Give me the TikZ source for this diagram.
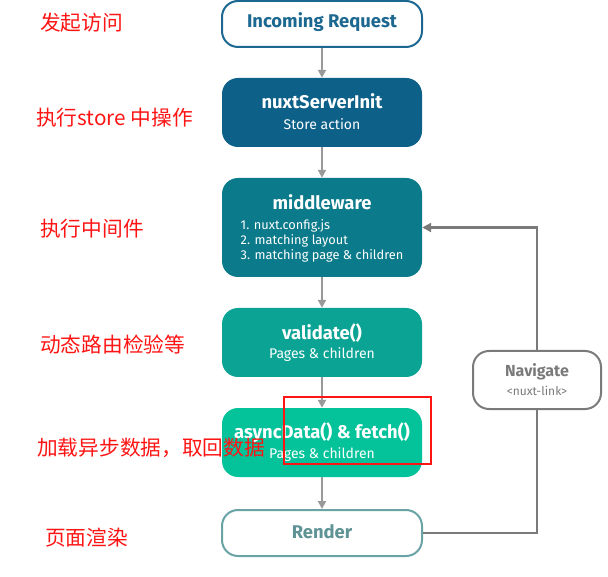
\documentclass[tikz,border=0pt]{standalone}
\usepackage{fontspec}
\setmainfont{Fira Sans}
\newfontfamily\cjk{Noto Sans CJK SC}
\usetikzlibrary{arrows.meta}
\definecolor{reqblue}{HTML}{1D6890}
\definecolor{initblue}{HTML}{0D6088}
\definecolor{midteal}{HTML}{0B7A8A}
\definecolor{valgreen}{HTML}{0AA394}
\definecolor{asyncgreen}{HTML}{04C39A}
\definecolor{renderteal}{HTML}{6AA3A6}
\definecolor{navgray}{HTML}{7A7A7A}
\definecolor{flowgray}{HTML}{999999}
\definecolor{notered}{HTML}{FF1414}
\begin{document}
\begin{tikzpicture}[x=1pt, y=-1pt,
    box/.style={rectangle, rounded corners=16pt, minimum width=200pt, minimum height=69pt, inner sep=0pt},
    ttl/.style={font=\fontsize{18.4}{21}\selectfont\bfseries, text=white, inner sep=0pt},
    sub/.style={font=\fontsize{14}{16}\selectfont, text=white, inner sep=0pt},
    flow/.style={draw=flowgray, line width=2pt, -{Triangle[length=8pt,width=8pt]}},
    back/.style={draw=navgray, line width=2.5pt},
    note/.style={font=\cjk\fontsize{20.7}{24}\selectfont, text=notered, anchor=west, inner sep=0pt}]
    \useasboundingbox (0,0) rectangle (608,577);
    % flow boxes
    \node[box, minimum height=46pt, draw=reqblue, line width=2pt, fill=white] (req) at (322,24) {};
    \node[box, fill=initblue] (init) at (322,112.5) {};
    \node[box, fill=midteal, minimum height=99pt] (mid) at (322,227.5) {};
    \node[box, fill=valgreen] (val) at (322,342.5) {};
    \node[box, fill=asyncgreen] (async) at (322,442.5) {};
    \node[box, minimum height=46pt, draw=renderteal, line width=2pt, fill=white] (render) at (322,533) {};
    \node[box, minimum width=128pt, minimum height=58pt, draw=navgray, line width=2pt, fill=white] (nav) at (537,380) {};
    % texts in the boxes
    \node[ttl, text=reqblue] (req-t) at (322,22) {Incoming Request};
    \node[ttl] (init-t) at (322,101) {nuxtServerInit};
    \node[sub] (init-s) at (322,124) {Store action};
    \node[ttl] (mid-t) at (322,202) {middleware};
    \node[sub, font=\fontsize{12.8}{15}\selectfont, align=left] (mid-s) at (322,241) {1. nuxt.config.js\\2. matching layout\\3. matching page \& children};
    \node[ttl] (val-t) at (322,333) {validate()};
    \node[sub] (val-s) at (322,355) {Pages \& children};
    \node[ttl] (async-t) at (322,433) {asyncData() \& fetch()};
    \node[sub] (async-s) at (322,455) {Pages \& children};
    \node[ttl, text=renderteal!90!black] (render-t) at (322,532) {Render};
    \node[ttl, text=navgray, font=\fontsize{16}{18}\selectfont\bfseries] (nav-t) at (537,372) {Navigate};
    \node[sub, text=navgray, font=\fontsize{12}{14}\selectfont] (nav-s) at (537,391) {<nuxt-link>};
    % connectors
    \draw[flow] (req) -- (init);
    \draw[flow] (init) -- (mid);
    \draw[flow] (mid) -- (val);
    \draw[flow] (val) -- (async);
    \draw[flow] (async) -- (render);
    \draw[back] (render.east) -| (nav.south);
    \draw[back, -{Triangle[length=9pt,width=9pt]}] (nav.north) |- (mid.east);
    % notes
    \node[note] (n1) at (40,23) {发起访问};
    \node[note] (n2) at (36,118) {执行store 中操作};
    \node[note] (n3) at (40,229) {执行中间件};
    \node[note] (n4) at (40,345) {动态路由检验等};
    \node[note] (n5) at (37,448) {加载异步数据，取回数据};
    \node[note] (n6) at (45,538) {页面渲染};
    \draw[notered, line width=2pt] (284,397) rectangle (431,464);
\end{tikzpicture}
\end{document}
